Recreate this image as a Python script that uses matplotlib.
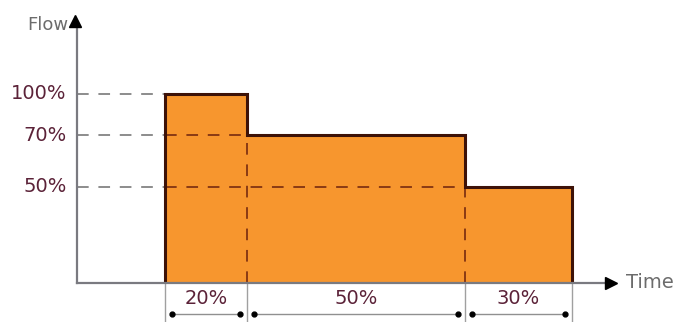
import numpy as np
import matplotlib.pyplot as plt

# segments of the flow profile
segment_labels = ['20%', '50%', '30%']
durations = [20.1, 53.6, 26.3]        # drawn widths
levels = [100, 78, 51]                # drawn heights
level_labels = ['100%', '70%', '50%']
t_start = 21.6

fill_col = '#f7962e'
edge_col = '#3d1208'
axis_col = '#7a7a80'
text_col = '#5b2238'
font = ['DejaVu Sans']

fig = plt.figure(figsize=(6.77, 3.22), dpi=100)
ax = fig.add_axes([77 / 677, 39 / 322, 529 / 677, 263 / 322])
ax.set_xlim(0, 130)
ax.set_ylim(0, 139)
ax.axis('off')

edges = np.concatenate([[t_start], t_start + np.cumsum(durations)])
lefts = edges[:-1]

# bars, no outline
ax.bar(lefts, levels, width=durations, align='edge', color=fill_col,
       edgecolor='none', zorder=1)

# outline as a step path
xs = [edges[0]]
ys = [0]
for i, lv in enumerate(levels):
    xs += [edges[i], edges[i + 1]]
    ys += [lv, lv]
xs.append(edges[-1])
ys.append(0)
ax.plot(xs, ys, color=edge_col, lw=2.2, zorder=4, solid_joinstyle='miter')

# dashed level lines: gray up to the first bar, brown across the bars
for i, lv in enumerate(levels):
    ax.plot([0, edges[0]], [lv, lv], color='#8c8c8c', lw=1.4,
            dashes=(6, 5), zorder=2)
    if i > 0:
        ax.plot([edges[0], edges[i]], [lv, lv], color='#8a3a14', lw=1.4,
                dashes=(6, 5), zorder=3)
        ax.plot([edges[i], edges[i]], [0, lv], color='#8a3a14', lw=1.4,
                dashes=(6, 5), zorder=3)
    ax.text(-2.6, lv, level_labels[i], ha='right', va='center',
            fontsize=14, color=text_col, family=font)

# axes with arrow heads
ax.plot([0, 0], [0, 137], color=axis_col, lw=1.6, zorder=5, clip_on=False)
ax.plot([0, 130], [0, 0], color=axis_col, lw=1.6, zorder=5, clip_on=False)
ax.plot(-0.4, 138.5, marker='^', ms=9, color='black', zorder=6, clip_on=False)
ax.plot(131.2, 0, marker='>', ms=9, color='black', zorder=6, clip_on=False)
ax.text(-2, 136.5, 'Flow', ha='right', va='center', fontsize=13,
        color='#6c6c6c', family=font)
ax.text(135, 0, 'Time', ha='left', va='center', fontsize=14,
        color='#6c6c6c', family=font)

# extension lines and dimension marks under the time axis
for x in edges:
    ax.plot([x, x], [0, -21], color='#a0a0a0', lw=1.0, clip_on=False)
for i, lab in enumerate(segment_labels):
    x0, x1 = edges[i] + 1.7, edges[i + 1] - 1.7
    ax.plot([x0, x1], [-16.5, -16.5], color='#909090', lw=1.0, clip_on=False)
    ax.plot([x0, x1], [-16.5, -16.5], 'o', ms=3.5, color='black', clip_on=False)
    ax.text((edges[i] + edges[i + 1]) / 2, -8, lab, ha='center',
            va='center', fontsize=14, color=text_col, family=font)

fig.savefig('out.png', dpi=100)
